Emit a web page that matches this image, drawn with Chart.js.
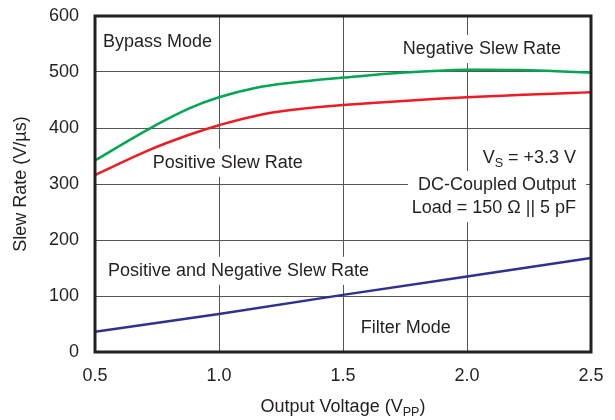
<!DOCTYPE html>
<html>
<head>
<meta charset="utf-8">
<script src="https://cdn.jsdelivr.net/npm/chart.js@4/dist/chart.umd.min.js"></script>
<style>
  html, body { margin: 0; padding: 0; background: #fff; }
  #wrap { width: 615px; height: 420px; }
</style>
</head>
<body>
<div id="wrap"><canvas id="slewChart" width="615" height="420"></canvas></div>
<script>
// values
const xTicks = [0.5, 1.0, 1.5, 2.0, 2.5];
const yTicks = [0, 100, 200, 300, 400, 500, 600];

const negX = [0.5, 0.72, 0.88, 1.0, 1.15, 1.29, 1.5, 1.75, 2.0, 2.25, 2.5];
const negBypass = [342, 399, 435, 455, 472, 481, 490, 499, 504, 503, 499];

const posX = [0.5, 0.72, 0.88, 1.0, 1.15, 1.29, 1.5, 2.0, 2.5];
const posBypass = [316, 361, 388, 405, 422, 432, 441, 455, 464];

const filterX = [0.5, 1.0, 1.5, 2.0, 2.5];
const filterMode = [36, 68, 102, 135, 168];

const ink = "#231f20";
const font = "'Liberation Sans', Arial, sans-serif";
const fontSize = 18;

function pts(xs, ys) {
    return xs.map((x, i) => ({ x: x, y: ys[i] }));
}

// text parts: [string, isSubscript]
function partsWidth(ctx, parts, size) {
    let w = 0;
    parts.forEach(p => {
        ctx.font = (p[1] ? size * 0.7 : size) + "px " + font;
        w += ctx.measureText(p[0]).width;
    });
    return w;
}

function drawParts(ctx, parts, x, y, size, align) {
    const w = partsWidth(ctx, parts, size);
    let cx = align === "right" ? x - w : align === "center" ? x - w / 2 : x;
    ctx.textBaseline = "middle";
    ctx.textAlign = "left";
    ctx.fillStyle = ink;
    parts.forEach(p => {
        ctx.font = (p[1] ? size * 0.7 : size) + "px " + font;
        ctx.fillText(p[0], cx, p[1] ? y + size * 0.3 : y);
        cx += ctx.measureText(p[0]).width;
    });
}

// labels inside plot: [parts, xValue, yValue, align, whiteBox]
const notes = [
    [[["Bypass Mode", false]], 0.532, 553, "left", false],
    [[["Negative Slew Rate", false]], 2.06, 541, "center", true],
    [[["Positive Slew Rate", false]], 0.733, 338, "left", true],
    [[["V", false], ["S", true], [" = +3.3 V", false]], 2.44, 346, "right", true],
    [[["DC-Coupled Output", false]], 2.44, 298, "right", true],
    [[["Load = 150 \u03a9 || 5 pF", false]], 2.44, 257, "right", true],
    [[["Positive and Negative Slew Rate", false]], 0.552, 145, "left", true],
    [[["Filter Mode", false]], 1.572, 43, "left", false]
];

const labelPlugin = {
    id: "labels",
    beforeDatasetsDraw(chart) {
        const ctx = chart.ctx;
        const xs = chart.scales.x, ys = chart.scales.y;
        ctx.save();
        notes.forEach(n => {
            if (!n[4]) return;
            const w = partsWidth(ctx, n[0], fontSize);
            const px = xs.getPixelForValue(n[1]);
            const py = ys.getPixelForValue(n[2]);
            const left = n[3] === "right" ? px - w : n[3] === "center" ? px - w / 2 : px;
            ctx.fillStyle = "#fff";
            ctx.fillRect(left - 10, py - 14, w + 20, 28);
        });
        notes.forEach(n => {
            drawParts(ctx, n[0], xs.getPixelForValue(n[1]), ys.getPixelForValue(n[2]), fontSize, n[3]);
        });
        ctx.restore();
    },
    afterDatasetsDraw(chart) {
        const ctx = chart.ctx;
        const a = chart.chartArea;
        ctx.save();
        ctx.strokeStyle = ink;
        ctx.lineWidth = 3;
        ctx.strokeRect(a.left, a.top, a.right - a.left, a.bottom - a.top);
        // axis titles
        drawParts(ctx, [["Output Voltage (V", false], ["PP", true], [")", false]],
            (a.left + a.right) / 2, 407, fontSize, "center");
        ctx.translate(21, (a.top + a.bottom) / 2);
        ctx.rotate(-Math.PI / 2);
        drawParts(ctx, [["Slew Rate (V/\u00b5s)", false]], 0, 0, fontSize, "center");
        ctx.restore();
    }
};

const ctx = document.getElementById("slewChart").getContext("2d");
new Chart(ctx, {
    type: "line",
    data: {
        datasets: [
            {
                label: "Negative Slew Rate",
                data: pts(negX, negBypass),
                borderColor: "#00a651",
                borderWidth: 2.5,
                pointRadius: 0,
                tension: 0.4
            },
            {
                label: "Positive Slew Rate",
                data: pts(posX, posBypass),
                borderColor: "#ed1c24",
                borderWidth: 2.5,
                pointRadius: 0,
                tension: 0.4
            },
            {
                label: "Positive and Negative Slew Rate",
                data: pts(filterX, filterMode),
                borderColor: "#2e3192",
                borderWidth: 2.5,
                pointRadius: 0,
                tension: 0
            }
        ]
    },
    options: {
        responsive: false,
        animation: false,
        layout: { padding: { left: 0, top: 16, right: 24, bottom: 0 } },
        plugins: {
            legend: { display: false },
            tooltip: { enabled: false }
        },
        scales: {
            x: {
                type: "linear",
                min: 0.5,
                max: 2.5,
                afterBuildTicks: s => { s.ticks = xTicks.map(v => ({ value: v })); },
                afterFit: s => { s.height = 68; s.paddingLeft = 0; s.paddingRight = 0; },
                grid: { color: "#555", lineWidth: 1, drawTicks: false },
                border: { display: false },
                ticks: {
                    color: ink,
                    font: { family: font, size: fontSize },
                    padding: 13,
                    callback: v => v.toFixed(1)
                }
            },
            y: {
                min: 0,
                max: 600,
                afterBuildTicks: s => { s.ticks = yTicks.map(v => ({ value: v })); },
                afterFit: s => { s.width = 95; s.paddingTop = 0; s.paddingBottom = 0; },
                grid: { color: "#555", lineWidth: 1, drawTicks: false },
                border: { display: false },
                ticks: {
                    color: ink,
                    font: { family: font, size: fontSize },
                    padding: 16
                }
            }
        }
    },
    plugins: [labelPlugin]
});
</script>
</body>
</html>
